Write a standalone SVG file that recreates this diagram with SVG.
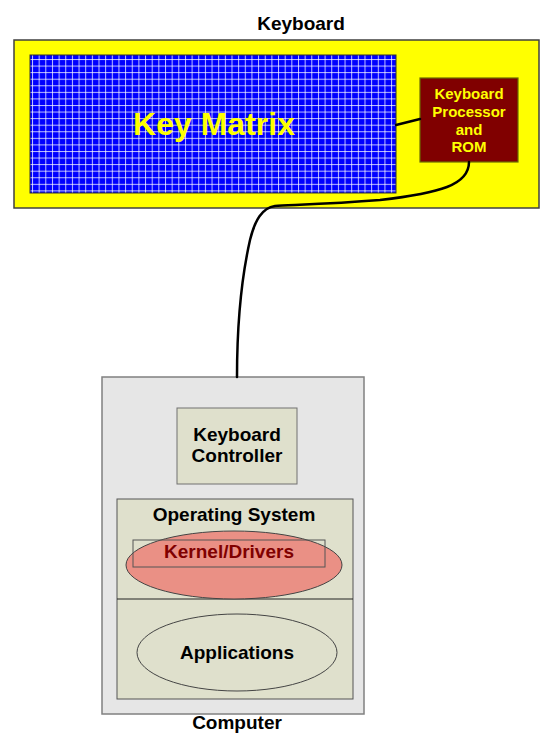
<svg xmlns="http://www.w3.org/2000/svg" width="543" height="734" viewBox="0 0 543 734">
<style>
  text { font-family: "Liberation Sans", Arial, sans-serif; font-weight: bold; text-anchor: middle; }
  .lbl { font-size: 19px; fill: #000; }
  .proc { font-size: 15px; fill: #ffff00; }
  .wire { fill: none; stroke: #000; stroke-width: 2.5; stroke-linecap: round; }
  .grid { stroke: #ffffff; stroke-opacity: 0.75; stroke-width: 1; }
</style>
<defs>
  <pattern id="grid" patternUnits="userSpaceOnUse" x="32" y="59" width="6.65" height="6.57">
    <line class="grid" x1="0.5" y1="0" x2="0.5" y2="6.57"/>
    <line class="grid" x1="0" y1="0.5" x2="6.65" y2="0.5"/>
  </pattern>
</defs>
<rect width="543" height="734" fill="#ffffff"/>

<g id="keyboard">
  <text class="lbl" x="301" y="30">Keyboard</text>
  <rect x="14" y="40" width="525" height="168" fill="#ffff00" stroke="#404040" stroke-width="1.5"/>
</g>

<g id="key-matrix">
  <rect x="30" y="55" width="366" height="138" fill="#0000ff"/>
  <rect x="30" y="55" width="366" height="138" fill="url(#grid)" stroke="#333333" stroke-width="1"/>
  <text x="214" y="135" style="font-size:32px;fill:#ffff00">Key Matrix</text>
</g>

<g id="keyboard-processor">
  <rect x="420" y="78" width="98" height="84" fill="#800000" stroke="#6b6b00" stroke-width="1.2"/>
  <text class="proc" x="469" y="99">Keyboard</text>
  <text class="proc" x="469" y="117">Processor</text>
  <text class="proc" x="469" y="135">and</text>
  <text class="proc" x="469" y="152">ROM</text>
</g>

<g id="computer">
  <rect x="102" y="377" width="262" height="337" fill="#e6e6e6" stroke="#808080" stroke-width="1.5"/>
  <text class="lbl" x="237" y="729">Computer</text>
</g>

<g id="keyboard-controller">
  <rect x="177" y="408" width="120" height="76" fill="#dfe0cc" stroke="#707070" stroke-width="1"/>
  <text class="lbl" x="237" y="441">Keyboard</text>
  <text class="lbl" x="237" y="462">Controller</text>
</g>

<g id="operating-system">
  <rect x="117" y="499" width="236" height="200" fill="#dfe0cc" stroke="#555555" stroke-width="1"/>
  <line x1="117" y1="599" x2="353" y2="599" stroke="#222222" stroke-width="1"/>
  <text class="lbl" x="234" y="521">Operating System</text>
</g>

<g id="kernel-drivers">
  <ellipse cx="234" cy="565" rx="108" ry="34" fill="#ea9085" stroke="#444444" stroke-width="1"/>
  <rect x="133" y="540" width="192" height="27" fill="none" stroke="#555555" stroke-width="1"/>
  <text class="lbl" x="229" y="558" style="fill:#800000">Kernel/Drivers</text>
</g>

<g id="applications">
  <ellipse cx="237" cy="652.5" rx="100" ry="38.5" fill="#dfe0cc" stroke="#444444" stroke-width="1"/>
  <text class="lbl" x="237" y="659">Applications</text>
</g>

<g id="connectors">
  <path class="wire" d="M396,125 Q408,122 420,119"/>
  <path class="wire" d="M469,162 C469,185 440,193 380,200 C330,204 290,205 275,206 C262,208 255,220 250,240 C241,280 237,330 237,377"/>
</g>
</svg>
